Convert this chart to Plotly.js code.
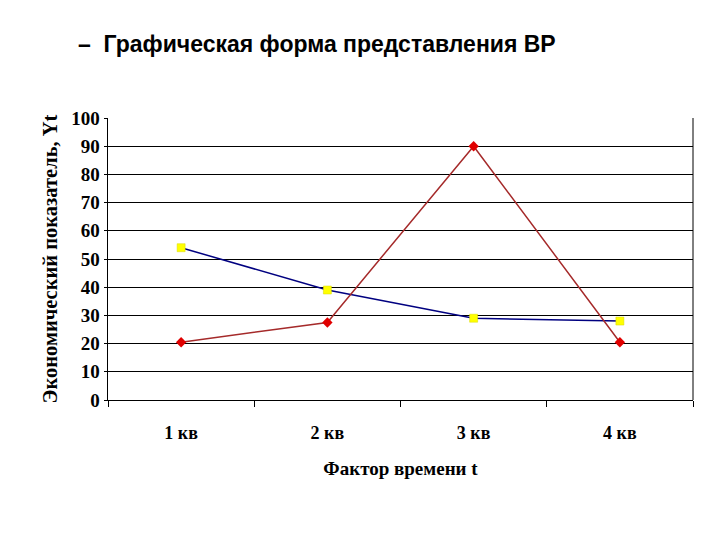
<!DOCTYPE html>
<html>
<head>
<meta charset="utf-8">
<script src="https://cdn.plot.ly/plotly-3.0.1.min.js"></script>
<style>html,body{margin:0;padding:0;background:#fff;}</style>
</head>
<body>
<div id="chart" style="width:720px;height:540px;"></div>
<script>
const categories = ["1 кв", "2 кв", "3 кв", "4 кв"];
const seriesBlue = [54, 39, 29, 28];
const seriesRed = [20.5, 27.5, 90, 20.5];
const yTicks = [0, 10, 20, 30, 40, 50, 60, 70, 80, 90, 100];

const serif = "Liberation Serif, Times New Roman, serif";

const traces = [
  {
    x: categories, y: seriesBlue, type: "scatter", mode: "lines+markers",
    line: {color: "#000080", width: 1.5},
    marker: {symbol: "square", size: 8, color: "#FFFF00", line: {color: "#D8D800", width: 0.5}},
    showlegend: false
  },
  {
    x: categories, y: seriesRed, type: "scatter", mode: "lines+markers",
    line: {color: "#A52A2A", width: 1.5},
    marker: {symbol: "diamond", size: 8, color: "#E00000"},
    showlegend: false
  }
];

const layout = {
  width: 720, height: 540,
  paper_bgcolor: "#ffffff", plot_bgcolor: "#ffffff",
  margin: {l: 108, r: 27, t: 118, b: 140},
  title: {
    text: "–  Графическая форма представления ВР",
    font: {family: "Liberation Sans, Arial, sans-serif", size: 23, color: "#000", weight: "bold"},
    x: 78 / 720, xanchor: "left", xref: "container", y: 1 - 44 / 540, yanchor: "middle", yref: "container"
  },
  xaxis: {
    type: "category", range: [-0.5, 3.5],
    tickson: "boundaries", ticks: "outside", ticklen: 6, tickcolor: "#000",
    showgrid: false, showline: true, linecolor: "#000", linewidth: 1, mirror: false,
    tickfont: {family: serif, size: 18, color: "#000", weight: "bold"},
    ticklabelstandoff: 16,
    title: {text: "Фактор времени t", font: {family: serif, size: 19, color: "#000", weight: "bold"}, standoff: 20},
    zeroline: false
  },
  yaxis: {
    range: [0, 100], tickvals: yTicks, ticktext: yTicks.map(String),
    ticks: "outside", ticklen: 3, tickcolor: "#000",
    showgrid: true, gridcolor: "#000", gridwidth: 1,
    showline: true, linecolor: "#000", linewidth: 1.5,
    tickfont: {family: serif, size: 19, color: "#000", weight: "bold"},
    title: {text: "Экономический показатель, Yt", font: {family: serif, size: 20.5, color: "#000", weight: "bold"}, standoff: 8},
    zeroline: false
  },
  shapes: [
    {type: "line", xref: "paper", yref: "paper", x0: 1, x1: 1, y0: 0, y1: 1, line: {color: "#000", width: 1}}
  ]
};

Plotly.newPlot("chart", traces, layout, {displayModeBar: false, staticPlot: true});
</script>
</body>
</html>
